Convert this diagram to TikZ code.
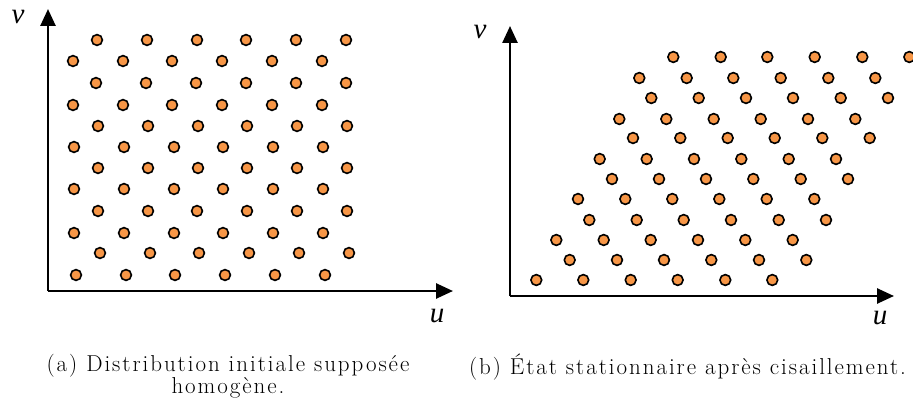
\documentclass[tikz,border=0pt]{standalone}
\usepackage{fontspec}
\usetikzlibrary{arrows.meta}
\newfontfamily\lblfont{Liberation Serif}
\newfontfamily\capfont[LetterSpace=8.5]{Latin Modern Roman}
\definecolor{dotorange}{RGB}{247,150,70}
\tikzset{
  axis/.style={line width=2.6pt,-{Triangle[length=17pt,width=15pt]}},
  dot/.style={fill=dotorange,draw=black,line width=1.6pt},
  axlabel/.style={font=\lblfont\itshape\fontsize{29}{30}\selectfont,inner sep=0pt},
  captext/.style={font=\capfont\fontsize{23}{22}\selectfont,align=center,inner sep=0pt}
}
\begin{document}
\begin{tikzpicture}[x=1pt,y=-1pt]
\useasboundingbox (0,0) rectangle (913,409);
% left panel
\coordinate (o1) at (48,291);
\coordinate (v1tip) at (48,9);
\coordinate (u1tip) at (453,291);
\draw[axis] (o1) -- (v1tip);
\draw[axis] (o1) -- (u1tip);
\node[axlabel] (v1) at (18,17) {v};
\node[axlabel] (u1) at (437,316) {u};
\foreach \y/\xs in {40/{97,147,197,246,296,346},
                   61/{73,123,172,222,272,322},
                   83/{96,146,196,246,296,346},
                   105/{73,123,172,222,272,322},
                   126/{98,148,198,247,297,347},
                   147/{74,124,174,223,273,323},
                   168/{98,148,198,247,297,347},
                   189/{74,124,174,223,273,323},
                   211/{98,148,197,247,297,347},
                   233/{74,124,174,223,273,323},
                   253/{100,150,199,249,299,349},
                   275/{76,126,175,225,275,325}}{
  \foreach \x in \xs { \draw[dot] (\x,\y) circle[radius=5.4]; }
}
% right panel
\coordinate (o2) at (510,296);
\coordinate (v2tip) at (510,26);
\coordinate (u2tip) at (894,296);
\draw[axis] (o2) -- (v2tip);
\draw[axis] (o2) -- (u2tip);
\node[axlabel] (v2) at (480,32) {v};
\node[axlabel] (u2) at (880,318) {u};
\foreach \y/\xs in {57/{673.3,720.7,767.3,814.7,862.3,909.3},
                   78/{639.3,686.7,733.3,780.7,828.3,875.3},
                   98/{651.3,698.7,746,793,840.7,888},
                   119/{619.3,666.3,713.7,760.7,808,855.3},
                   138/{633,680.3,727.7,774.7,822.3,869.7},
                   159/{599.7,646.7,694,741.3,788.7,836},
                   179/{612,659,706,753.3,800.7,848},
                   199/{578,625.3,672.3,719.3,766.7,814.3},
                   220/{589.3,636.7,683.7,731,778.7,826},
                   240/{556.3,603.7,650.7,698,745.3,792.7},
                   260/{569.7,617,664,711.3,759,806.3},
                   280/{536.3,583.3,630.7,677.7,725.3,772.3}}{
  \foreach \x in \xs { \draw[dot] (\x,\y) circle[radius=5.4]; }
}
% captions
\node[captext,anchor=north] (capa) at (228,354) {(a) Distribution initiale supposée\\homogène.};
\node[captext,anchor=north] (capb) at (687.5,354) {(b) État stationnaire après cisaillement.};
\end{tikzpicture}
\end{document}
